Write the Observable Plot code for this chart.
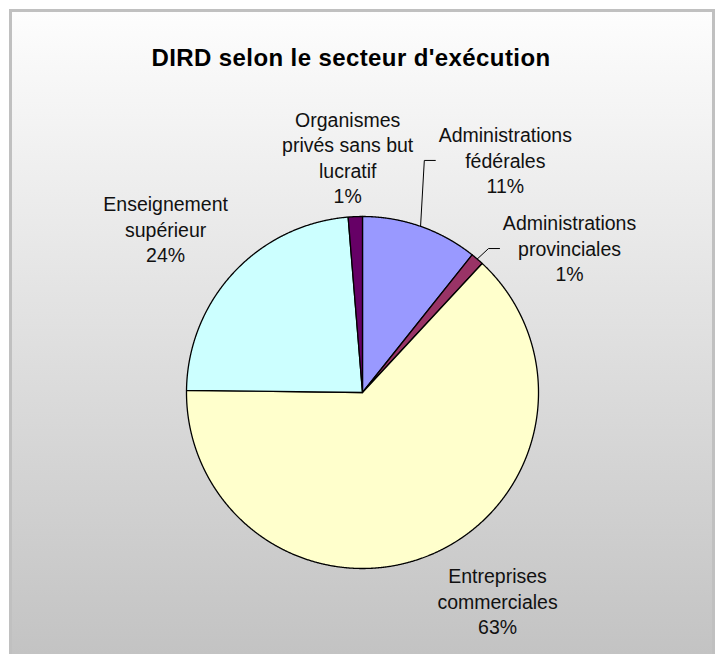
<!DOCTYPE html>
<html><head><meta charset="utf-8">
<script src="https://cdn.jsdelivr.net/npm/d3@7"></script>
<script src="https://cdn.jsdelivr.net/npm/@observablehq/plot@0.6"></script>
<style>
html,body{margin:0;padding:0;background:#fff;}
#wrap{position:relative;width:718px;height:654px;overflow:hidden;font-family:"Liberation Sans",Arial,sans-serif;}
#bg{position:absolute;left:9px;top:9px;width:700px;height:680px;border:3px solid #c0c0c0;
  background:linear-gradient(to bottom,#fdfdfd 0px,#c3c3c3 642px);}
#title{position:absolute;left:0;top:45px;width:702px;text-align:center;font-weight:bold;font-size:24px;letter-spacing:0.4px;line-height:26px;color:#000;}
#chart{position:absolute;left:0;top:0;}
</style></head>
<body>
<div id="wrap"><div id="bg"></div><div id="title">DIRD selon le secteur d'exécution</div><div id="chart"></div></div>
<script>
// ---- data ----
const sectors = ["Administrations fédérales","Administrations provinciales","Entreprises commerciales","Enseignement supérieur","Organismes privés sans but lucratif"];
const labelText = ["Administrations\nfédérales","Administrations\nprovinciales","Entreprises\ncommerciales","Enseignement\nsupérieur","Organismes\nprivés sans but\nlucratif"];
const shares = [10.7, 1.2, 63.3, 23.5, 1.3];
const shownPct = ["11%","1%","63%","24%","1%"];
const colors = ["#9999FF","#993366","#FFFFCC","#CCFFFF","#660066"];
const labelAngle = [31.5, 55.0, 147.0, 309.8, 356.4];
const labelDist = [1.553, 1.436, 1.409, 1.456, 1.341];
const hasLeader = [true, true, false, false, false];

// ---- layout ----
const W = 718, H = 654, cx = 362, cy = 392, R = 176;
const arcs = d3.pie().sort(null).value(d => d)(shares);

const slicePts = [];
arcs.forEach((a, i) => {
  slicePts.push({name: sectors[i], x: 0, y: 0});
  const n = Math.max(2, Math.ceil((a.endAngle - a.startAngle) / 0.004));
  for (let k = 0; k <= n; k++) {
    const t = a.startAngle + (a.endAngle - a.startAngle) * k / n;
    slicePts.push({name: sectors[i], x: Math.sin(t), y: Math.cos(t)});
  }
  slicePts.push({name: sectors[i], x: 0, y: 0});
});

const labels = sectors.map((s, i) => {
  const t = labelAngle[i] * Math.PI / 180;
  return {name: s, text: labelText[i] + "\n" + shownPct[i], x: labelDist[i] * Math.sin(t), y: labelDist[i] * Math.cos(t)};
});

const leaderPts = [];
arcs.forEach((a, i) => {
  if (!hasLeader[i]) return;
  const m = (a.startAngle + a.endAngle) / 2;
  const L = labels[i];
  const yl = L.y - 1 / R;
  leaderPts.push({name: sectors[i], x: Math.sin(m), y: Math.cos(m)});
  leaderPts.push({name: sectors[i], x: L.x - 81 / R, y: yl});
  leaderPts.push({name: sectors[i], x: L.x - 70 / R, y: yl});
});

const chart = Plot.plot({
  width: W, height: H,
  marginLeft: 0, marginRight: 0, marginTop: 0, marginBottom: 0,
  style: {background: "transparent", fontFamily: "'Liberation Sans', Arial, sans-serif"},
  x: {domain: [-1, 1], range: [cx - R, cx + R], axis: null},
  y: {domain: [-1, 1], range: [cy + R, cy - R], axis: null},
  color: {domain: sectors, range: colors},
  marks: [
    Plot.line(slicePts, {x: "x", y: "y", z: "name", fill: "name", stroke: "#000", strokeWidth: 1.3, strokeLinejoin: "round", curve: "linear"}),
    Plot.line(leaderPts, {x: "x", y: "y", z: "name", stroke: "#000", strokeWidth: 1, curve: "linear"}),
    Plot.text(labels, {x: "x", y: "y", text: "text", fontSize: 19.5, lineHeight: 1.308, textAnchor: "middle", fill: "#111"})
  ]
});
document.getElementById("chart").appendChild(chart);
</script>
</body></html>
